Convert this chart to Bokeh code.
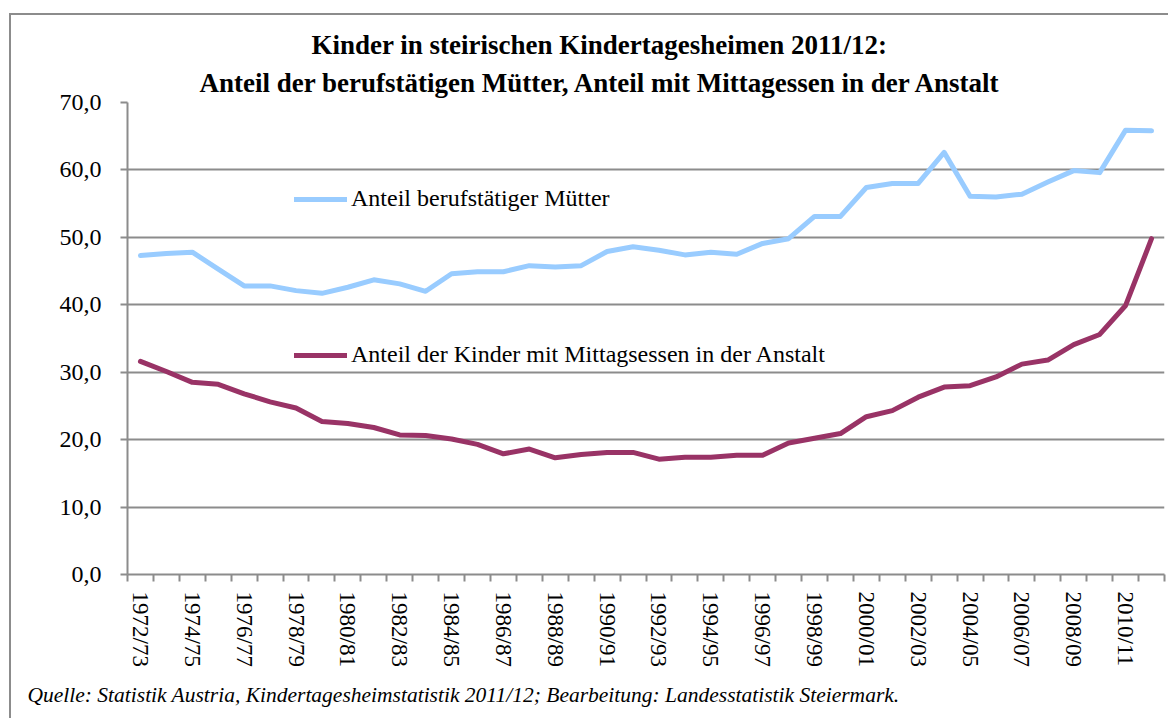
from bokeh.plotting import figure
from bokeh.models import Range1d, FixedTicker, Legend, LegendItem, Title
from bokeh.embed import file_html
from bokeh.resources import INLINE

categories = ["1972/73", "1973/74", "1974/75", "1975/76", "1976/77", "1977/78",
              "1978/79", "1979/80", "1980/81", "1981/82", "1982/83", "1983/84",
              "1984/85", "1985/86", "1986/87", "1987/88", "1988/89", "1989/90",
              "1990/91", "1991/92", "1992/93", "1993/94", "1994/95", "1995/96",
              "1996/97", "1997/98", "1998/99", "1999/00", "2000/01", "2001/02",
              "2002/03", "2003/04", "2004/05", "2005/06", "2006/07", "2007/08",
              "2008/09", "2009/10", "2010/11", "2011/12"]

anteil_muetter = [47.3, 47.6, 47.8, 45.3, 42.8, 42.8, 42.1, 41.7, 42.6, 43.7,
                  43.1, 42.0, 44.6, 44.9, 44.9, 45.8, 45.6, 45.8, 47.9, 48.6,
                  48.1, 47.4, 47.8, 47.5, 49.1, 49.8, 53.1, 53.1, 57.4, 58.0,
                  58.0, 62.6, 56.1, 56.0, 56.4, 58.2, 59.9, 59.6, 65.9, 65.8]

anteil_mittagessen = [31.6, 30.1, 28.5, 28.2, 26.8, 25.6, 24.7, 22.7, 22.4, 21.8,
                      20.7, 20.6, 20.1, 19.3, 17.9, 18.6, 17.3, 17.8, 18.1, 18.1,
                      17.1, 17.4, 17.4, 17.7, 17.7, 19.5, 20.2, 20.9, 23.4, 24.3,
                      26.3, 27.8, 28.0, 29.3, 31.2, 31.8, 34.1, 35.6, 39.9, 49.8]

y_ticks = [0, 10, 20, 30, 40, 50, 60, 70]
y_tick_labels = ["0,0", "10,0", "20,0", "30,0", "40,0", "50,0", "60,0", "70,0"]

series_names = ["Anteil berufstätiger Mütter",
                "Anteil der Kinder mit Mittagsessen in der Anstalt"]
title_lines = ["Kinder in steirischen Kindertagesheimen 2011/12:",
               "Anteil der berufstätigen Mütter, Anteil mit Mittagessen in der Anstalt"]
source_note = ("Quelle: Statistik Austria, Kindertagesheimstatistik 2011/12; "
               "Bearbeitung: Landesstatistik Steiermark.")

FONT = "Liberation Serif"
GRID = "#8c8c8c"
n = len(categories)
x = list(range(n))

p = figure(width=1159, height=705, output_backend="svg", toolbar_location=None,
           x_range=Range1d(-0.5, n - 0.5), y_range=Range1d(0, 70),
           min_border_left=116, min_border_right=6, min_border_top=87,
           min_border_bottom=146)
p.margin = (13, 0, 0, 9)
p.styles = {"border-left": "2px solid #8c8c8c", "border-top": "2px solid #8c8c8c"}
p.outline_line_color = None
p.background_fill_color = "white"
p.border_fill_color = "white"

# grid
p.xgrid.visible = False
p.ygrid.grid_line_color = GRID
p.ygrid.grid_line_width = 2
p.ygrid.ticker = FixedTicker(ticks=y_ticks)

# y axis
ya = p.yaxis[0]
ya.ticker = FixedTicker(ticks=y_ticks)
ya.major_label_overrides = {t: l for t, l in zip(y_ticks, y_tick_labels)}
ya.major_label_text_font = FONT
ya.major_label_text_font_size = "24px"
ya.major_label_text_color = "black"
ya.axis_line_color = GRID
ya.axis_line_width = 2
ya.major_tick_line_color = GRID
ya.major_tick_line_width = 2
ya.major_tick_out = 7
ya.major_tick_in = 0
ya.minor_tick_line_color = None
ya.major_label_standoff = 19

# x axis
xa = p.xaxis[0]
major = list(range(0, n, 2))
xa.ticker = FixedTicker(ticks=major, minor_ticks=[i - 0.5 for i in range(n + 1)])
xa.major_label_overrides = {i: categories[i] for i in major}
xa.major_label_orientation = "vertical"
xa.major_label_text_font = FONT
xa.major_label_text_font_size = "23px"
xa.major_label_text_color = "black"
xa.axis_line_color = GRID
xa.axis_line_width = 2
xa.major_tick_out = 0
xa.major_tick_in = 0
xa.major_tick_line_color = None
xa.minor_tick_line_color = GRID
xa.minor_tick_line_width = 2
xa.minor_tick_out = 7
xa.minor_tick_in = 0
xa.major_label_standoff = 10

# lines
r1 = p.line(x, anteil_muetter, line_color="#99ccff", line_width=5,
            line_join="round", line_cap="round")
r2 = p.line(x, anteil_mittagessen, line_color="#993366", line_width=5,
            line_join="round", line_cap="round")


def make_legend(label, r, loc):
    return Legend(items=[LegendItem(label=label, renderers=[r])], location=loc,
                  padding=0, margin=0, spacing=0, label_standoff=4,
                  glyph_width=53, glyph_height=24, label_height=24,
                  label_text_font=FONT, label_text_font_size="24px",
                  label_text_color="black", background_fill_alpha=0,
                  border_line_color=None)


p.add_layout(make_legend(series_names[0], r1, (167, 362)), "center")
p.add_layout(make_legend(series_names[1], r2, (167, 206)), "center")

# titles (closest to the plot first), left-aligned with offsets to centre them
p.add_layout(Title(text=title_lines[1], align="left", offset=72, standoff=10,
                   text_font=FONT, text_font_size="27px", text_font_style="bold",
                   text_color="black"), "above")
p.add_layout(Title(text=title_lines[0], align="left", offset=184, standoff=1,
                   text_font=FONT, text_font_size="27px", text_font_style="bold",
                   text_color="black"), "above")

# source note
p.add_layout(Title(text=source_note, align="left", offset=-100, standoff=23,
                   text_font=FONT, text_font_size="21.5px", text_font_style="italic",
                   text_color="black"), "below")

open("out.html", "w").write(file_html(p, INLINE))
